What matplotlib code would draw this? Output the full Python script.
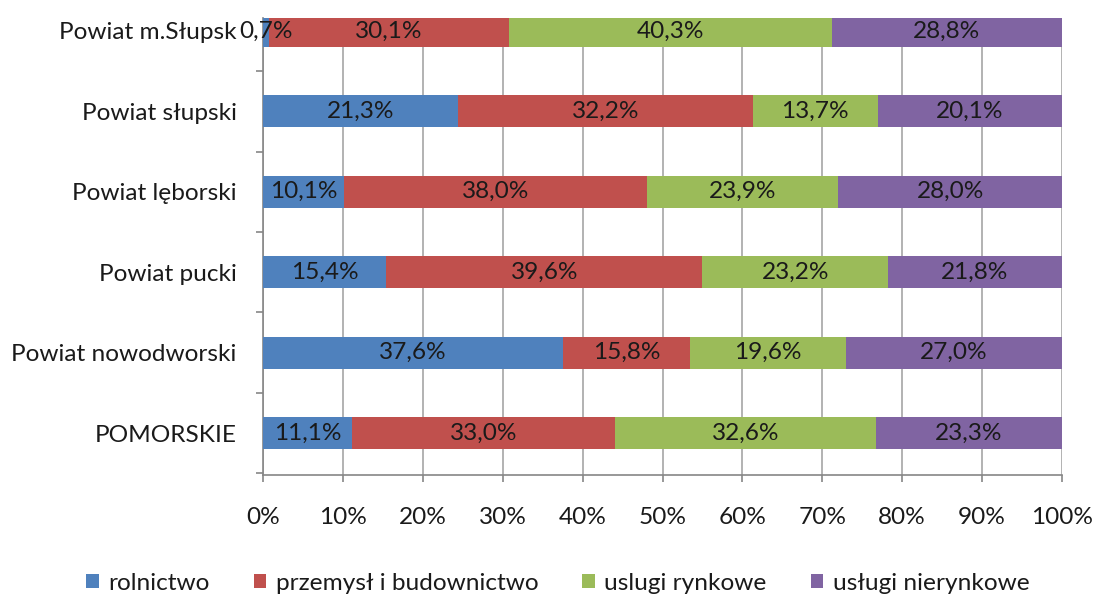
import matplotlib
matplotlib.use("Agg")
import matplotlib.pyplot as plt
import numpy as np
from matplotlib.ticker import FixedLocator, FuncFormatter

plt.rcParams['font.family'] = ['Lato', 'DejaVu Sans']

categories = ["POMORSKIE", "Powiat nowodworski", "Powiat pucki", "Powiat lęborski",
              "Powiat słupski", "Powiat m.Słupsk"]
series_names = ["rolnictwo", "przemysł i budownictwo", "uslugi rynkowe", "usługi nierynkowe"]
rolnictwo = [11.1, 37.6, 15.4, 10.1, 21.3, 0.7]
przemysl = [33.0, 15.8, 39.6, 38.0, 32.2, 30.1]
uslugi_rynkowe = [32.6, 19.6, 23.2, 23.9, 13.7, 40.3]
uslugi_nierynkowe = [23.3, 27.0, 21.8, 28.0, 20.1, 28.8]
colors = ["#4F81BD", "#C0504D", "#9BBB59", "#8064A2"]
xticks = [0, 10, 20, 30, 40, 50, 60, 70, 80, 90, 100]

series = [rolnictwo, przemysl, uslugi_rynkowe, uslugi_nierynkowe]
data = np.array(series, dtype=float)
totals = data.sum(axis=0)
shares = data / totals * 100

W, H = 1095, 597
fig = plt.figure(figsize=(W / 100, H / 100), dpi=100)
ax = fig.add_axes([263 / W, 1 - 475 / H, (1062 - 263) / W, (475 - 18) / H])

y = np.arange(len(categories))
left = np.zeros(len(categories))
fs = 17.6
for k in range(len(series)):
    ax.barh(y, shares[k], left=left, height=0.4, color=colors[k], zorder=3,
            label=series_names[k])
    for i in range(len(categories)):
        cx = left[i] + shares[k][i] / 2
        txt = ("%.1f%%" % data[k][i]).replace(".", ",")
        ax.text(cx, y[i], txt, ha="center", va="center", fontsize=fs, color="#1a1a1a",
                zorder=5)
    left += shares[k]

ax.set_xlim(0, 100)
ax.set_ylim(-0.52, 5.16)
ax.xaxis.set_major_locator(FixedLocator(xticks))
ax.xaxis.set_major_formatter(FuncFormatter(lambda v, p: "%d%%" % v))
ax.grid(axis="x", color="#A6A6A6", linewidth=1.2, zorder=0)

ax.yaxis.set_major_locator(FixedLocator(np.arange(-0.5, 5.6, 1.0)))
ax.yaxis.set_major_formatter(FuncFormatter(lambda v, p: ""))
ax.yaxis.set_minor_locator(FixedLocator(y))
ax.set_yticklabels(categories, minor=True)
ax.tick_params(axis="y", which="minor", length=0, pad=19, labelsize=fs, labelcolor="#1a1a1a")
ax.tick_params(axis="y", which="major", length=5, color="#868686", width=1.2)
ax.tick_params(axis="x", which="major", length=5, color="#868686", width=1.2,
               pad=18, labelsize=fs, labelcolor="#1a1a1a")

for s in ["top", "right"]:
    ax.spines[s].set_visible(False)
for s in ["left", "bottom"]:
    ax.spines[s].set_color("#868686")
    ax.spines[s].set_linewidth(1.2)

handles, labels = ax.get_legend_handles_labels()
fig.legend(handles, labels, loc="center", bbox_to_anchor=(558 / W, 1 - 583 / H), ncol=4,
           frameon=False, fontsize=fs, handlelength=0.5, handleheight=0.5,
           handletextpad=0.4, columnspacing=1.8, labelcolor="#1a1a1a")

fig.savefig("out.png", dpi=100)
